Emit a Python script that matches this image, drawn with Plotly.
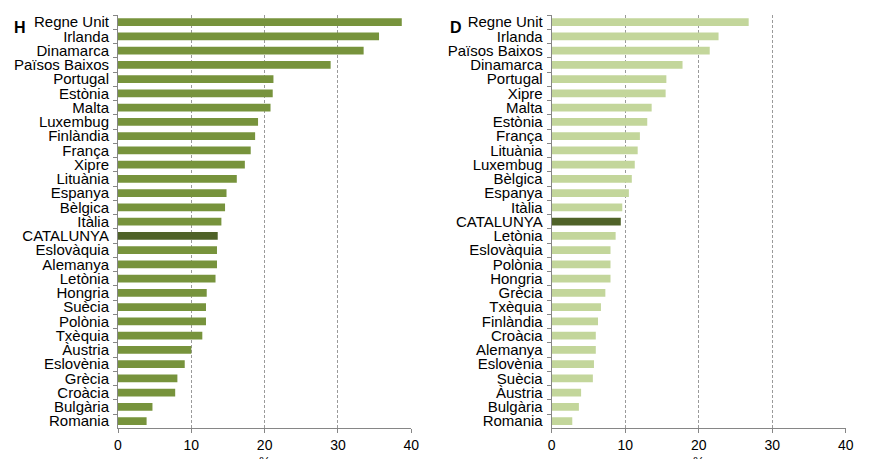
import plotly.graph_objects as go

# Left panel (H)
cats_h = ["Regne Unit", "Irlanda", "Dinamarca", "Països Baixos", "Portugal", "Estònia", "Malta",
          "Luxembug", "Finlàndia", "França", "Xipre", "Lituània", "Espanya", "Bèlgica", "Itàlia",
          "CATALUNYA", "Eslovàquia", "Alemanya", "Letònia", "Hongria", "Suècia", "Polònia",
          "Txèquia", "Àustria", "Eslovènia", "Grècia", "Croàcia", "Bulgària", "Romania"]
vals_h = [38.7, 35.6, 33.5, 29.0, 21.2, 21.1, 20.8, 19.1, 18.7, 18.1, 17.3, 16.2, 14.8, 14.6, 14.1,
          13.6, 13.5, 13.5, 13.3, 12.1, 12.0, 12.0, 11.5, 10.0, 9.1, 8.1, 7.8, 4.7, 3.9]

# Right panel (D)
cats_d = ["Regne Unit", "Irlanda", "Països Baixos", "Dinamarca", "Portugal", "Xipre", "Malta",
          "Estònia", "França", "Lituània", "Luxembug", "Bèlgica", "Espanya", "Itàlia", "CATALUNYA",
          "Letònia", "Eslovàquia", "Polònia", "Hongria", "Grècia", "Txèquia", "Finlàndia",
          "Croàcia", "Alemanya", "Eslovènia", "Suècia", "Àustria", "Bulgària", "Romania"]
vals_d = [26.8, 22.7, 21.5, 17.8, 15.6, 15.5, 13.6, 13.0, 12.0, 11.7, 11.3, 10.9, 10.5, 9.6, 9.4,
          8.7, 8.0, 8.0, 8.0, 7.3, 6.7, 6.3, 6.0, 6.0, 5.75, 5.6, 4.0, 3.7, 2.8]

x_ticks = [0, 10, 20, 30, 40]
panel_letters = ["H", "D"]
x_title = "%"

HIGHLIGHT = "#4F6228"
COL_H = "#77933C"
COL_D = "#C3D69B"

W, H = 880, 459

fig = go.Figure()
fig.add_trace(go.Bar(
    y=cats_h, x=vals_h, orientation="h",
    marker=dict(color=[HIGHLIGHT if c == "CATALUNYA" else COL_H for c in cats_h], line=dict(width=0)),
    xaxis="x", yaxis="y", showlegend=False,
))
fig.add_trace(go.Bar(
    y=cats_d, x=vals_d, orientation="h",
    marker=dict(color=[HIGHLIGHT if c == "CATALUNYA" else COL_D for c in cats_d], line=dict(width=0)),
    xaxis="x2", yaxis="y2", showlegend=False,
))

ydom = [1 - 428.3 / H, 1 - 15 / H]
font = dict(family="Liberation Sans, Arial, sans-serif", size=15, color="#000000")

xaxis_common = dict(
    range=[0, 40], tickvals=x_ticks, showgrid=True, gridcolor="#9A9A9A", griddash="3px,2px",
    gridwidth=1, zeroline=False, showline=True, linecolor="#868686", linewidth=1,
    ticks="outside", ticklen=4, tickcolor="#868686", automargin=False,
    tickfont=dict(family="Liberation Sans, Arial, sans-serif", size=14, color="#000"),
)
yaxis_common = dict(
    autorange="reversed", showline=True, linecolor="#868686", linewidth=1,
    ticks="outside", ticklen=4, tickcolor="#868686", tickson="boundaries",
    tickmode="linear", dtick=1, automargin=False, ticklabelstandoff=5,
    showgrid=False, tickfont=font,
)

left_dom = [118 / W, 411.3 / W]
right_dom = [551.7 / W, 845.7 / W]

fig.update_layout(
    width=W, height=H,
    margin=dict(l=0, r=0, t=0, b=0, autoexpand=False),
    paper_bgcolor="white", plot_bgcolor="white",
    bargap=0.46,
    font=font,
    xaxis=dict(domain=left_dom, anchor="y", **xaxis_common),
    yaxis=dict(domain=ydom, anchor="x", **yaxis_common),
    xaxis2=dict(domain=right_dom, anchor="y2", **xaxis_common),
    yaxis2=dict(domain=ydom, anchor="x2", **yaxis_common),
    annotations=[
        dict(text="<b>" + panel_letters[0] + "</b>", x=12 / W, y=1 - 27 / H, xref="paper", yref="paper",
             xanchor="left", yanchor="middle", showarrow=False, font=dict(size=16, color="#000")),
        dict(text="<b>" + panel_letters[1] + "</b>", x=448 / W, y=1 - 27 / H, xref="paper", yref="paper",
             xanchor="left", yanchor="middle", showarrow=False, font=dict(size=16, color="#000")),
        dict(text=x_title, x=sum(left_dom) / 2, y=1 - 452 / H, xref="paper", yref="paper",
             xanchor="center", yanchor="top", showarrow=False, font=dict(size=13, color="#000")),
        dict(text=x_title, x=sum(right_dom) / 2, y=1 - 452 / H, xref="paper", yref="paper",
             xanchor="center", yanchor="top", showarrow=False, font=dict(size=13, color="#000")),
    ],
)

fig.write_html("out.html", config={"displayModeBar": False},
               post_script="document.body.style.margin='0';")
